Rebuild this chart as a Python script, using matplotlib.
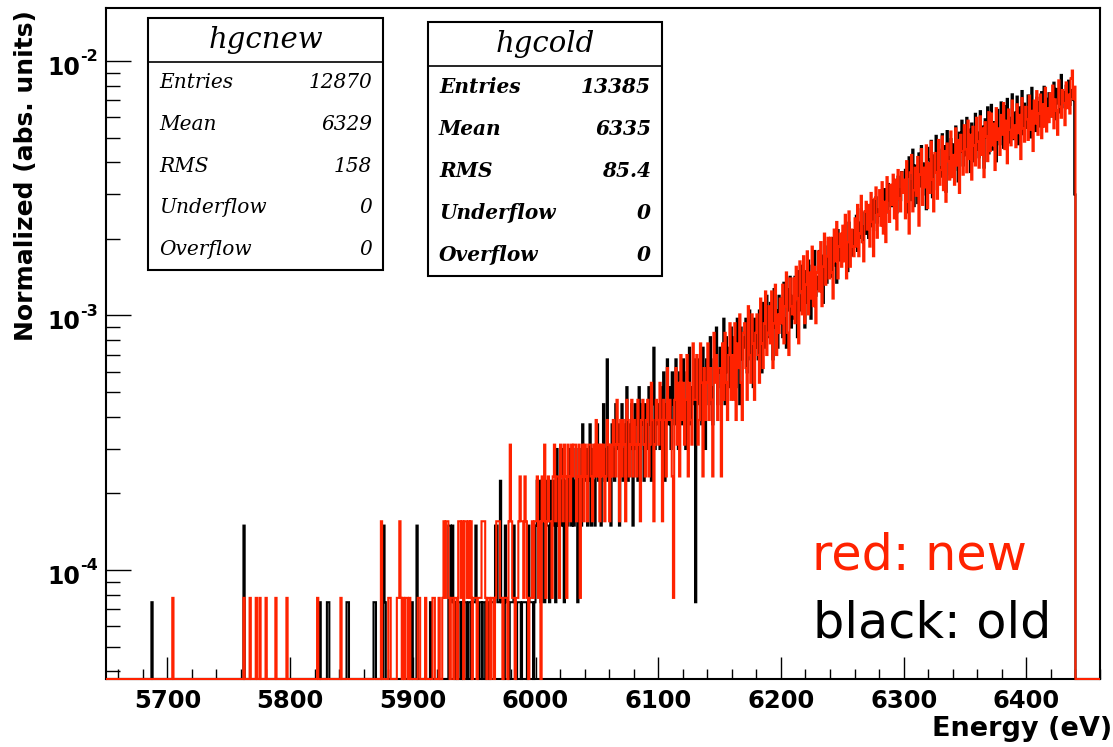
import numpy as np
import matplotlib
matplotlib.use('Agg')
import matplotlib.pyplot as plt
from matplotlib.patches import Rectangle
from matplotlib.lines import Line2D
from matplotlib.ticker import LogLocator, MultipleLocator, NullFormatter

# 1 eV bins over the shown range
e_lo, e_hi = 5650, 6460

# sparse low-energy tail: bin energy -> counts
new_tail_e = [5704, 5762, 5767, 5772, 5775, 5780, 5788, 5797, 5822, 5841,
              5874, 5880, 5881, 5887, 5888, 5889, 5890, 5892, 5894, 5895, 5897]
new_tail_n = [1, 1, 1, 1, 1, 1, 1, 1, 1, 1,
              2, 1, 1, 1, 1, 2, 1, 1, 1, 1, 1]
old_tail_e = [5687, 5762, 5824, 5830, 5831, 5846, 5847, 5868, 5869, 5876, 5877, 5899]
old_tail_n = [1, 2, 1, 1, 1, 1, 1, 1, 1, 2, 1, 1]

# counts per bin from 5900 eV on
dense_start = 5900
new_dense = [
    0, 0, 0, 0, 1, 1, 0, 0, 0, 0,
    1, 0, 0, 0, 0, 0, 1, 1, 0, 0,
    0, 1, 0, 0, 1, 2, 1, 2, 2, 1,
    0, 1, 1, 0, 1, 1, 0, 2, 2, 1,
    2, 0, 2, 2, 1, 2, 1, 2, 0, 1,
    1, 1, 0, 1, 1, 1, 2, 2, 2, 1,
    0, 1, 1, 0, 1, 1, 0, 1, 2, 2,
    2, 1, 1, 0, 1, 1, 1, 0, 2, 4,
    2, 1, 1, 0, 1, 1, 2, 3, 2, 2,
    1, 3, 2, 1, 0, 1, 1, 2, 1, 2,
    2, 3, 1, 2, 0, 3, 2, 4, 1, 2,
    3, 2, 2, 1, 3, 4, 2, 3, 3, 1,
    4, 3, 2, 4, 3, 1, 4, 3, 2, 4,
    3, 4, 4, 2, 3, 4, 1, 3, 4, 2,
    4, 3, 2, 4, 4, 3, 2, 4, 3, 5,
    3, 4, 2, 4, 3, 4, 2, 3, 5, 4,
    2, 4, 3, 5, 4, 3, 6, 4, 2, 5,
    3, 5, 4, 2, 6, 5, 3, 4, 6, 3,
    5, 4, 3, 6, 4, 2, 5, 6, 4, 3,
    5, 6, 3, 4, 7, 5, 2, 4, 6, 5,
    4, 7, 5, 2, 6, 5, 3, 8, 5, 6,
    5, 3, 1, 6, 8, 4, 7, 3, 9, 5,
    7, 4, 6, 9, 3, 7, 5, 4, 10, 6,
    6, 9, 4, 5, 10, 7, 3, 8, 5, 7,
    10, 5, 8, 6, 3, 11, 7, 9, 5, 8,
    8, 3, 10, 6, 11, 7, 5, 9, 12, 6,
    9, 6, 12, 5, 10, 8, 13, 7, 5, 11,
    12, 8, 6, 14, 9, 7, 13, 10, 6, 11,
    13, 9, 7, 15, 10, 8, 12, 16, 9, 11,
    14, 10, 16, 8, 12, 17, 9, 13, 11, 15,
    12, 17, 10, 14, 19, 11, 9, 18, 14, 13,
    18, 12, 20, 15, 10, 21, 16, 13, 22, 12,
    17, 23, 13, 19, 15, 24, 14, 20, 12, 19,
    23, 16, 25, 14, 20, 27, 17, 22, 26, 18,
    26, 19, 15, 28, 21, 30, 18, 24, 27, 20,
    29, 21, 32, 18, 25, 33, 20, 28, 24, 22,
    31, 24, 35, 22, 27, 38, 25, 21, 33, 36,
    28, 35, 24, 39, 30, 22, 37, 41, 26, 32,
    40, 29, 43, 27, 36, 25, 45, 33, 30, 42,
    35, 46, 31, 44, 28, 48, 37, 33, 47, 39,
    44, 31, 52, 36, 27, 47, 55, 33, 40, 49,
    38, 54, 29, 46, 58, 35, 49, 41, 60, 34,
    51, 39, 62, 44, 33, 56, 47, 37, 63, 42,
    48, 65, 40, 57, 36, 61, 52, 44, 68, 45,
    55, 42, 70, 50, 63, 39, 66, 57, 46, 72,
    58, 47, 75, 53, 66, 44, 71, 60, 50, 77,
    62, 49, 78, 55, 70, 45, 74, 65, 52, 81,
    57, 80, 60, 73, 48, 84, 63, 70, 55, 79,
    66, 88, 58, 75, 51, 83, 69, 60, 90, 64,
    72, 59, 87, 67, 79, 53, 92, 70, 62, 85,
    76, 63, 94, 69, 82, 57, 90, 73, 98, 66,
    80, 95, 64, 87, 71, 101, 68, 84, 74, 96,
    78, 103, 70, 91, 82, 66, 108, 85, 77, 99,
    88, 72, 106, 84, 95, 80, 110, 118, 91, 102,
]
old_dense = [
    0, 0, 0, 2, 0, 0, 0, 0, 0, 0,
    0, 0, 0, 0, 1, 0, 0, 0, 0, 0,
    0, 0, 0, 0, 0, 0, 0, 0, 0, 2,
    2, 1, 2, 1, 0, 1, 0, 1, 1, 0,
    1, 0, 1, 1, 0, 1, 1, 0, 1, 1,
    1, 2, 1, 0, 1, 1, 0, 1, 1, 0,
    1, 1, 0, 1, 1, 1, 1, 2, 2, 1,
    1, 3, 1, 1, 0, 2, 1, 1, 0, 1,
    1, 1, 2, 1, 0, 1, 1, 1, 0, 1,
    1, 1, 1, 0, 2, 1, 1, 1, 0, 1,
    2, 3, 2, 3, 1, 3, 3, 1, 3, 2,
    2, 1, 3, 2, 2, 3, 1, 4, 2, 3,
    3, 2, 4, 1, 3, 3, 2, 4, 3, 2,
    4, 2, 3, 3, 1, 4, 3, 2, 5, 3,
    3, 4, 2, 3, 5, 2, 4, 3, 2, 4,
    5, 3, 4, 2, 4, 6, 3, 4, 9, 3,
    4, 2, 5, 4, 3, 6, 4, 5, 2, 4,
    6, 3, 4, 5, 7, 3, 5, 4, 6, 2,
    4, 6, 5, 3, 7, 4, 6, 5, 3, 6,
    5, 4, 7, 5, 3, 6, 10, 4, 6, 5,
    6, 4, 7, 5, 8, 3, 6, 9, 5, 7,
    4, 8, 6, 5, 9, 7, 4, 8, 6, 5,
    9, 6, 4, 8, 7, 10, 5, 7, 6, 9,
    1, 7, 9, 6, 8, 5, 10, 7, 4, 9,
    8, 6, 11, 7, 5, 9, 8, 12, 6, 8,
    10, 7, 9, 13, 6, 11, 8, 10, 7, 12,
    8, 11, 9, 7, 13, 10, 6, 12, 9, 11,
    10, 13, 8, 11, 14, 9, 12, 7, 13, 10,
    12, 9, 14, 11, 8, 15, 10, 13, 16, 11,
    11, 15, 13, 9, 17, 12, 14, 10, 16, 13,
    15, 11, 18, 13, 10, 17, 14, 19, 12, 16,
    13, 19, 15, 11, 20, 16, 14, 21, 17, 12,
    20, 15, 22, 17, 13, 21, 18, 24, 16, 19,
    17, 24, 19, 23, 15, 26, 20, 18, 25, 21,
    23, 19, 27, 21, 25, 18, 29, 22, 26, 24,
    26, 22, 30, 24, 20, 31, 27, 23, 29, 25,
    29, 33, 24, 31, 27, 35, 26, 30, 34, 28,
    32, 27, 36, 30, 38, 29, 34, 39, 31, 35,
    33, 40, 35, 31, 42, 37, 34, 44, 38, 36,
    41, 36, 45, 39, 34, 47, 42, 38, 49, 43,
    41, 50, 34, 47, 56, 38, 45, 60, 36, 52,
    48, 37, 58, 43, 62, 40, 53, 46, 35, 61,
    55, 44, 65, 39, 57, 49, 68, 42, 60, 51,
    47, 69, 53, 62, 41, 71, 56, 48, 66, 58,
    63, 50, 74, 55, 45, 70, 59, 78, 52, 66,
    57, 80, 61, 72, 49, 76, 64, 54, 83, 60,
    70, 56, 85, 62, 74, 51, 79, 67, 88, 58,
    65, 90, 60, 77, 69, 54, 86, 72, 63, 92,
    75, 61, 89, 68, 95, 64, 80, 71, 99, 66,
    84, 70, 97, 63, 88, 76, 102, 69, 91, 80,
    73, 98, 82, 67, 105, 78, 90, 71, 96, 85,
    92, 74, 101, 83, 106, 77, 95, 87, 100, 81,
    97, 86, 110, 79, 104, 91, 99, 84, 118, 93,
    101, 88, 107, 95, 112, 90, 103, 97, 94, 40,
]

new_entries = 12870
old_entries = 13385

new_stats = [('Entries', '12870'), ('Mean', '6329'), ('RMS', '158'),
             ('Underflow', '0'), ('Overflow', '0')]
old_stats = [('Entries', '13385'), ('Mean', '6335'), ('RMS', '85.4'),
             ('Underflow', '0'), ('Overflow', '0')]

y_decades = [-2, -3, -4]

RED = '#ff2200'
W, H = 1113, 747
ymin, ymax = 3.73e-5, 1.615e-2

plt.rcParams['font.family'] = 'DejaVu Sans'

edges = np.arange(e_lo, e_hi + 1)


def fill_counts(tail_e, tail_n, dense):
    c = np.zeros(len(edges) - 1)
    for e, n in zip(tail_e, tail_n):
        c[e - e_lo] += n
    i0 = dense_start - e_lo
    c[i0:i0 + len(dense)] = dense
    return c


def fx(x):
    return x / W


def fy(y):
    return 1 - y / H


new_vals = fill_counts(new_tail_e, new_tail_n, new_dense) / new_entries
old_vals = fill_counts(old_tail_e, old_tail_n, old_dense) / old_entries
# empty bins sit on the frame bottom, like ROOT does on a log axis
new_vals = np.maximum(new_vals, ymin)
old_vals = np.maximum(old_vals, ymin)

fig = plt.figure(figsize=(W / 100, H / 100), dpi=100)
ax = fig.add_axes([fx(106), fy(679), fx(1100) - fx(106), fy(8) - fy(679)])
ax.set_yscale('log')
ax.set_xlim(e_lo, e_hi)
ax.set_ylim(ymin, ymax)

ax.stairs(old_vals, edges, baseline=None, color='black', lw=1.5, zorder=3, clip_on=False)
ax.stairs(new_vals, edges, baseline=None, color=RED, lw=1.5, zorder=4, clip_on=False)

for s in ['top', 'right', 'left', 'bottom']:
    ax.spines[s].set_linewidth(1.5)

ax.xaxis.set_major_locator(MultipleLocator(100))
ax.xaxis.set_minor_locator(MultipleLocator(20))
ax.yaxis.set_major_locator(LogLocator(base=10))
ax.yaxis.set_minor_locator(LogLocator(base=10, subs=np.arange(2, 10)))
ax.yaxis.set_minor_formatter(NullFormatter())
ax.yaxis.set_major_formatter(NullFormatter())

ax.tick_params(axis='x', which='major', direction='in', length=16, width=1,
               labelsize=17.5, pad=7)
ax.tick_params(axis='x', which='minor', direction='in', length=7, width=1)
ax.tick_params(axis='y', which='major', direction='in', length=18, width=1)
ax.tick_params(axis='y', which='minor', direction='in', length=10, width=1)
for lab in ax.get_xticklabels():
    lab.set_fontweight('bold')

# ROOT style decade labels: "10" with a raised exponent
for d in y_decades:
    ax.annotate('10', xy=(0, 10.0 ** d), xycoords=('axes fraction', 'data'),
                xytext=(-26, -7), textcoords='offset pixels', ha='right', va='center',
                fontsize=17, fontweight='bold')
    ax.annotate('%d' % d, xy=(0, 10.0 ** d), xycoords=('axes fraction', 'data'),
                xytext=(-26, 4), textcoords='offset pixels', ha='left', va='center',
                fontsize=11.5, fontweight='bold')

fig.text(fx(26), fy(10), 'Normalized (abs. units)', rotation=90, ha='center', va='top',
         fontsize=18, fontweight='bold')
fig.text(fx(1112), fy(736), 'Energy (eV)', ha='right', va='baseline',
         fontsize=19.5, fontweight='bold')

fig.text(fx(812), fy(570), 'red: new', color=RED, fontsize=35.5, va='baseline')
fig.text(fx(813), fy(637), 'black: old', color='black', fontsize=35.5, va='baseline')


def stats_box(x0, x1, y0, y1, yline, title, rows, row_weight):
    fig.add_artist(Rectangle((fx(x0), fy(y1)), fx(x1) - fx(x0), fy(y0) - fy(y1),
                             transform=fig.transFigure, facecolor='white',
                             edgecolor='black', lw=1.5, zorder=10))
    fig.add_artist(Line2D([fx(x0), fx(x1)], [fy(yline), fy(yline)],
                          transform=fig.transFigure, color='black', lw=1.2, zorder=11))
    fig.text(fx((x0 + x1) / 2), fy((y0 + yline) / 2), title, ha='center', va='center',
             family='DejaVu Serif', style='italic', fontsize=21, zorder=12)
    step = (y1 - yline) / len(rows)
    for i, (name, val) in enumerate(rows):
        yc = yline + step * (i + 0.5)
        fig.text(fx(x0 + 11), fy(yc), name, ha='left', va='center', family='DejaVu Serif',
                 style='italic', fontweight=row_weight, fontsize=14.5, zorder=12)
        fig.text(fx(x1 - 11), fy(yc), val, ha='right', va='center', family='DejaVu Serif',
                 style='italic', fontweight=row_weight, fontsize=14.5, zorder=12)


stats_box(148, 383, 18, 270, 62, 'hgcnew', new_stats, 'normal')
stats_box(428, 662, 22, 276, 66, 'hgcold', old_stats, 'bold')

fig.savefig('out.png', dpi=100)
